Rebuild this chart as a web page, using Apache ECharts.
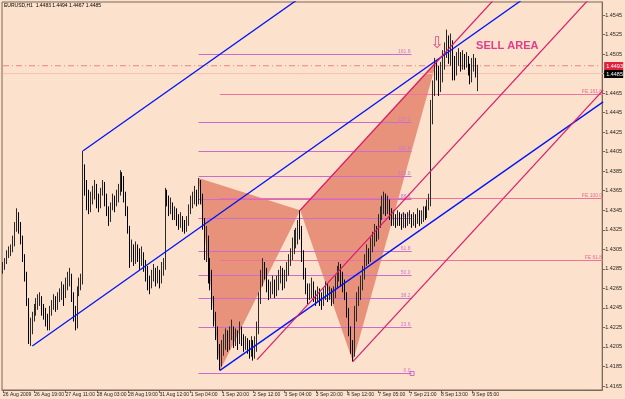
<!DOCTYPE html>
<html><head><meta charset="utf-8">
<script src="https://cdn.jsdelivr.net/npm/echarts@6/dist/echarts.min.js"></script>
<style>html,body{margin:0;padding:0;background:#fce2cc;}#c{width:625px;height:399px;}</style>
</head><body><div id="c"></div><script>
// ---- data (EURUSD H1) ----
const title = 'EURUSD,H1  1.4483 1.4494 1.4467 1.4485';
const xTickLabels = ['26 Aug 2009','26 Aug 19:00','27 Aug 11:00','28 Aug 03:00','28 Aug 19:00','31 Aug 12:00','1 Sep 04:00','1 Sep 20:00','2 Sep 12:00','3 Sep 04:00','3 Sep 20:00','4 Sep 12:00','7 Sep 05:00','7 Sep 21:00','8 Sep 13:00','9 Sep 05:00'];
const yTicks = [1.4165,1.4185,1.4205,1.4225,1.4245,1.4265,1.4285,1.4305,1.4325,1.4345,1.4365,1.4385,1.4405,1.4425,1.4445,1.4465,1.4485,1.4505,1.4525,1.4545];
const firstOpen = 1.4280;
const closes = [
1.4286,1.4292,1.4298,1.4302,1.4304,1.4313,1.4327,1.4339,1.4329,1.4317,
1.4298,1.4278,1.4253,1.4216,1.4226,1.4235,1.4241,1.4249,1.4253,1.4255,
1.4243,1.4239,1.4233,1.4226,1.4241,1.4247,1.4253,1.4247,1.4255,1.4259,
1.4263,1.4259,1.4267,1.4274,1.4278,1.4257,1.4237,1.4229,1.4261,1.4267,
1.4272,1.4388,1.4370,1.4360,1.4347,1.4356,1.4362,1.4368,1.4356,1.4351,
1.4360,1.4370,1.4358,1.4345,1.4335,1.4347,1.4356,1.4351,1.4358,1.4364,
1.4376,1.4370,1.4360,1.4345,1.4327,1.4298,1.4304,1.4296,1.4306,1.4300,
1.4292,1.4298,1.4290,1.4282,1.4274,1.4267,1.4276,1.4282,1.4274,1.4278,
1.4272,1.4284,1.4286,1.4358,1.4356,1.4345,1.4349,1.4339,1.4343,1.4335,
1.4331,1.4337,1.4329,1.4325,1.4333,1.4345,1.4351,1.4356,1.4360,1.4356,
1.4370,1.4360,1.4333,1.4304,1.4315,1.4288,1.4278,1.4253,1.4235,1.4222,
1.4200,1.4190,1.4204,1.4210,1.4214,1.4206,1.4218,1.4222,1.4210,1.4216,
1.4212,1.4220,1.4214,1.4206,1.4210,1.4204,1.4200,1.4208,1.4198,1.4206,
1.4222,1.4253,1.4274,1.4286,1.4282,1.4267,1.4259,1.4263,1.4270,1.4261,
1.4267,1.4276,1.4280,1.4270,1.4276,1.4284,1.4292,1.4298,1.4306,1.4315,
1.4319,1.4329,1.4323,1.4300,1.4282,1.4265,1.4257,1.4261,1.4267,1.4257,
1.4253,1.4259,1.4255,1.4249,1.4257,1.4263,1.4257,1.4261,1.4253,1.4259,
1.4270,1.4278,1.4284,1.4276,1.4267,1.4257,1.4241,1.4222,1.4204,1.4200,
1.4235,1.4253,1.4257,1.4270,1.4278,1.4292,1.4300,1.4294,1.4308,1.4315,
1.4323,1.4319,1.4331,1.4339,1.4349,1.4356,1.4345,1.4351,1.4341,1.4335,
1.4337,1.4333,1.4339,1.4335,1.4331,1.4337,1.4333,1.4335,1.4339,1.4333,
1.4337,1.4335,1.4341,1.4337,1.4339,1.4343,1.4341,1.4349,1.4356,1.4437,
1.4468,1.4491,1.4487,1.4472,1.4489,1.4499,1.4511,1.4519,1.4503,1.4515,
1.4497,1.4485,1.4499,1.4505,1.4493,1.4501,1.4497,1.4499,1.4489,1.4481,
1.4493,1.4499,1.4483,1.4485];
const highs = [
1.4292,1.4296,1.4304,1.4308,1.4310,1.4319,1.4333,1.4347,1.4343,1.4333,
1.4319,1.4300,1.4282,1.4255,1.4235,1.4241,1.4249,1.4255,1.4259,1.4261,
1.4257,1.4249,1.4245,1.4239,1.4247,1.4253,1.4259,1.4257,1.4261,1.4265,
1.4272,1.4269,1.4276,1.4282,1.4286,1.4280,1.4261,1.4247,1.4267,1.4276,
1.4280,1.4406,1.4392,1.4376,1.4366,1.4364,1.4370,1.4376,1.4372,1.4362,
1.4368,1.4376,1.4374,1.4362,1.4349,1.4353,1.4362,1.4360,1.4366,1.4372,
1.4386,1.4384,1.4380,1.4364,1.4349,1.4329,1.4315,1.4310,1.4313,1.4310,
1.4306,1.4308,1.4302,1.4294,1.4288,1.4278,1.4284,1.4290,1.4286,1.4288,
1.4284,1.4292,1.4296,1.4368,1.4366,1.4360,1.4358,1.4353,1.4349,1.4347,
1.4341,1.4343,1.4339,1.4335,1.4339,1.4351,1.4360,1.4364,1.4370,1.4366,
1.4378,1.4376,1.4362,1.4337,1.4329,1.4319,1.4296,1.4284,1.4257,1.4241,
1.4226,1.4208,1.4212,1.4218,1.4224,1.4222,1.4226,1.4233,1.4226,1.4224,
1.4222,1.4231,1.4226,1.4218,1.4216,1.4214,1.4212,1.4216,1.4212,1.4216,
1.4231,1.4261,1.4284,1.4296,1.4292,1.4286,1.4274,1.4272,1.4278,1.4274,
1.4278,1.4284,1.4288,1.4286,1.4284,1.4292,1.4300,1.4306,1.4317,1.4325,
1.4327,1.4335,1.4345,1.4329,1.4304,1.4286,1.4270,1.4270,1.4276,1.4272,
1.4263,1.4267,1.4265,1.4261,1.4265,1.4272,1.4270,1.4267,1.4265,1.4267,
1.4278,1.4288,1.4292,1.4290,1.4282,1.4274,1.4261,1.4245,1.4226,1.4212,
1.4247,1.4261,1.4267,1.4278,1.4288,1.4300,1.4310,1.4306,1.4317,1.4323,
1.4331,1.4329,1.4341,1.4349,1.4360,1.4364,1.4362,1.4360,1.4356,1.4347,
1.4345,1.4341,1.4345,1.4343,1.4341,1.4343,1.4341,1.4343,1.4345,1.4341,
1.4343,1.4341,1.4347,1.4345,1.4345,1.4349,1.4349,1.4356,1.4362,1.4458,
1.4478,1.4501,1.4499,1.4493,1.4497,1.4509,1.4517,1.4530,1.4524,1.4526,
1.4519,1.4503,1.4507,1.4511,1.4507,1.4509,1.4505,1.4507,1.4503,1.4495,
1.4501,1.4505,1.4501,1.4494];
const lows = [
1.4280,1.4284,1.4290,1.4296,1.4298,1.4302,1.4308,1.4323,1.4321,1.4310,
1.4292,1.4272,1.4247,1.4208,1.4206,1.4218,1.4231,1.4237,1.4243,1.4247,
1.4237,1.4233,1.4226,1.4222,1.4222,1.4237,1.4243,1.4241,1.4243,1.4251,
1.4253,1.4247,1.4255,1.4263,1.4267,1.4251,1.4231,1.4222,1.4224,1.4257,
1.4263,1.4269,1.4360,1.4345,1.4341,1.4343,1.4351,1.4356,1.4347,1.4343,
1.4347,1.4360,1.4349,1.4339,1.4329,1.4333,1.4345,1.4343,1.4349,1.4353,
1.4360,1.4364,1.4353,1.4339,1.4321,1.4286,1.4292,1.4288,1.4290,1.4292,
1.4284,1.4288,1.4282,1.4272,1.4263,1.4259,1.4265,1.4272,1.4267,1.4270,
1.4265,1.4270,1.4278,1.4284,1.4349,1.4339,1.4341,1.4335,1.4335,1.4329,
1.4325,1.4327,1.4323,1.4321,1.4323,1.4329,1.4341,1.4347,1.4351,1.4349,
1.4351,1.4351,1.4325,1.4294,1.4292,1.4270,1.4263,1.4243,1.4226,1.4212,
1.4192,1.4181,1.4185,1.4196,1.4202,1.4200,1.4202,1.4212,1.4204,1.4206,
1.4202,1.4208,1.4206,1.4200,1.4202,1.4198,1.4193,1.4195,1.4191,1.4193,
1.4200,1.4218,1.4249,1.4267,1.4274,1.4261,1.4253,1.4255,1.4259,1.4255,
1.4257,1.4263,1.4270,1.4263,1.4265,1.4272,1.4278,1.4288,1.4294,1.4300,
1.4306,1.4310,1.4315,1.4292,1.4274,1.4259,1.4249,1.4253,1.4255,1.4251,
1.4247,1.4251,1.4247,1.4243,1.4247,1.4253,1.4251,1.4253,1.4247,1.4249,
1.4255,1.4265,1.4272,1.4267,1.4261,1.4253,1.4235,1.4216,1.4198,1.4190,
1.4195,1.4231,1.4247,1.4253,1.4263,1.4274,1.4288,1.4290,1.4292,1.4302,
1.4308,1.4313,1.4315,1.4327,1.4335,1.4341,1.4339,1.4341,1.4335,1.4329,
1.4329,1.4327,1.4329,1.4329,1.4325,1.4327,1.4327,1.4329,1.4331,1.4327,
1.4329,1.4327,1.4331,1.4329,1.4331,1.4333,1.4335,1.4337,1.4345,1.4349,
1.4433,1.4462,1.4478,1.4462,1.4466,1.4476,1.4489,1.4501,1.4495,1.4493,
1.4478,1.4478,1.4483,1.4493,1.4487,1.4489,1.4489,1.4491,1.4483,1.4474,
1.4476,1.4487,1.4481,1.4467];
// harmonic pattern points [bar index, price]
const ptX = [100, 1.4378], ptA = [111, 1.4181], ptB = [152, 1.4345], ptC = [179, 1.4190], ptD = [222, 1.4499];
const triangles = [[ptX, ptA, ptB], [ptB, ptC, ptD]];
// trend lines [[bar, price],[bar, price]]
const blueLines = [
  [[14.7, 1.4206], [280, 1.4581]],
  [[41, 1.4406], [160, 1.4574]],
  [[111, 1.4181], [306.5, 1.4456]]
];
const crimsonLines = [
  [[152, 1.4345], [260, 1.4580]],
  [[130, 1.4192], [306.5, 1.4577]],
  [[179, 1.4190], [306.5, 1.4468]]
];
// fibo retracement
const fibStart = 100, fibEnd = 209, fib0 = 1.4178, fib100 = 1.4380;
const fibLevels = [0, 23.6, 38.2, 50, 61.8, 78.6, 88.6, 100, 112.8, 127.2, 161.8];
const fibLabels = ['0.0', '23.6', '38.2', '50.0', '61.8', '78.6', '88.6', '100.0', '112.8', '127.2', '161.8'];
// fibo expansion
const feStart = 111;
const fePrices = [1.4294, 1.4358, 1.4464];
const feLabels = ['FE 61.8', 'FE 100.0', 'FE 161.8'];
const hLinePrice = 1.4493, bidPrice = 1.4485;
const sellText = 'SELL AREA', sellPos = [242, 1.4513], arrowPos = [221.8, 1.4515];

// ---- chart ----
const NCAT = 307;
const xCats = Array.from({length: NCAT}, (_, i) => String(i));
const candles = closes.map((c, i) => [i === 0 ? firstOpen : closes[i - 1], c, lows[i], highs[i]]);
const yMin = 1.41609, yMax = 1.45583;
const AX = '#7a6858';
const FONT = '"Liberation Sans", Arial, sans-serif';

function seg(s, color, z, type, w) {
  return {type: 'line', data: s, symbol: 'none', silent: true, animation: false, z: z, clip: true,
    lineStyle: {color: color, width: w || 1, type: type || 'solid'}};
}

const series = [];
series.push({
  type: 'custom', z: 1, silent: true, animation: false, clip: true,
  data: triangles.map((t, i) => [i, yMin]),
  renderItem: (params, api) => {
    const pts = triangles[params.dataIndex].map(p => api.coord(p));
    return {type: 'polygon', shape: {points: pts}, style: {fill: '#e8927c'}};
  }
});
// fib retracement levels
series.push({
  type: 'custom', z: 2, silent: true, animation: false,
  data: fibLevels.map(l => [fibStart, fib0 + l / 100 * (fib100 - fib0)]),
  renderItem: (params, api) => {
    const pr = api.value(1);
    const a = api.coord([fibStart, pr]), b = api.coord([fibEnd, pr]);
    const y = Math.round(a[1]) + 0.5;
    const ch = [
      {type: 'line', shape: {x1: a[0], y1: y, x2: b[0], y2: y}, style: {stroke: '#c96ccc', lineWidth: 1}},
      {type: 'text', style: {text: fibLabels[params.dataIndex], x: b[0] - 1, y: y - 0.5, align: 'right', verticalAlign: 'bottom', fill: '#c878c8', font: '5px ' + FONT}}
    ];
    if (params.dataIndex === 0) ch.push({type: 'rect', shape: {x: b[0] - 1.5, y: y - 2, width: 4, height: 4}, style: {fill: 'none', stroke: '#c96ccc', lineWidth: 1}});
    return {type: 'group', children: ch};
  }
});
// fibo expansion levels
series.push({
  type: 'custom', z: 2, silent: true, animation: false,
  data: fePrices.map(p => [feStart, p]),
  renderItem: (params, api) => {
    const pr = api.value(1);
    const a = api.coord([feStart, pr]), b = api.coord([NCAT - 0.5, pr]);
    const y = Math.round(a[1]) + 0.5;
    return {type: 'group', children: [
      {type: 'line', shape: {x1: a[0], y1: y, x2: b[0], y2: y}, style: {stroke: '#f0729a', lineWidth: 1}},
      {type: 'text', style: {text: feLabels[params.dataIndex], x: b[0] - 1, y: y - 0.5, align: 'right', verticalAlign: 'bottom', fill: '#ee6a94', font: '5px ' + FONT}}
    ]};
  }
});
series.push(seg([[0, hLinePrice], [NCAT - 0.5, hLinePrice]], '#ef8080', 2, [6, 3, 1, 3]));
series.push(seg([[0, bidPrice], [NCAT - 0.5, bidPrice]], '#f6c2b0', 2));
series.push({
  type: 'candlestick', data: candles, z: 3, barWidth: 1, animation: false, silent: true,
  itemStyle: {color: '#a49a8a', color0: '#111', borderColor: '#2a2a2a', borderColor0: '#000', borderWidth: 1}
});
blueLines.forEach(s => series.push(seg(s, '#0014f5', 4, 'solid', 1.3)));
crimsonLines.forEach(s => series.push(seg(s, '#dc1a6c', 4, 'solid', 1.2)));
series.push({
  type: 'scatter', z: 6, symbolSize: 0, silent: true, animation: false,
  data: [arrowPos],
  label: {show: true, position: 'inside', formatter: '\u21e9', color: '#dc1a6c', fontSize: 16, fontFamily: '"DejaVu Sans"'}
});
series.push({
  type: 'scatter', z: 6, symbolSize: 0, silent: true, animation: false,
  data: [sellPos],
  label: {show: true, position: 'right', distance: 0, formatter: sellText, color: '#d8147a', fontSize: 11, fontWeight: 'bold', fontFamily: FONT}
});
// price boxes on the axis
series.push({
  type: 'custom', z: 10, silent: true, animation: false, clip: false,
  data: [[NCAT - 1, hLinePrice], [NCAT - 1, bidPrice]],
  renderItem: (params, api) => {
    const pr = api.value(1);
    const p = api.coord([NCAT - 0.5, pr]);
    const bg = params.dataIndex === 0 ? '#e0203c' : '#000';
    return {type: 'group', children: [
      {type: 'rect', shape: {x: p[0] + 1, y: Math.round(p[1]) - 4, width: 19, height: 8}, style: {fill: bg}},
      {type: 'text', style: {text: pr.toFixed(4), x: p[0] + 3, y: Math.round(p[1]), verticalAlign: 'middle', fill: '#fff', font: '5.5px ' + FONT}}
    ]};
  }
});

const chart = echarts.init(document.getElementById('c'));
chart.setOption({
  animation: false,
  backgroundColor: '#fce2cc',
  grid: {left: 2, right: 19, top: 2, bottom: 9, show: true, borderColor: AX, borderWidth: 1, backgroundColor: 'transparent', containLabel: false},
  graphic: [{type: 'text', left: 4, top: 3, style: {text: title, fill: '#000', font: '5px ' + FONT}, z: 20}],
  xAxis: {
    type: 'category', data: xCats, boundaryGap: true, min: 0, max: NCAT - 1,
    axisLine: {show: true, onZero: false, lineStyle: {color: AX}},
    axisTick: {show: true, alignWithLabel: true, interval: i => i % 16 === 0 && i / 16 < xTickLabels.length, length: 3, lineStyle: {color: AX}},
    axisLabel: {show: true, interval: i => i % 16 === 0 && i / 16 < xTickLabels.length, formatter: (v, i) => xTickLabels[i / 16] || '', align: 'left', fontSize: 5, color: '#222', margin: 2, fontFamily: FONT},
    splitLine: {show: false}
  },
  yAxis: {
    type: 'value', position: 'right', min: yMin, max: yMax,
    axisLine: {show: true, lineStyle: {color: AX}},
    axisTick: {show: true, customValues: yTicks, length: 3, lineStyle: {color: AX}},
    axisLabel: {show: true, customValues: yTicks, formatter: v => v.toFixed(4), fontSize: 5.5, color: '#222', margin: 3, fontFamily: FONT},
    splitLine: {show: false}
  },
  series: series
});
</script></body></html>
